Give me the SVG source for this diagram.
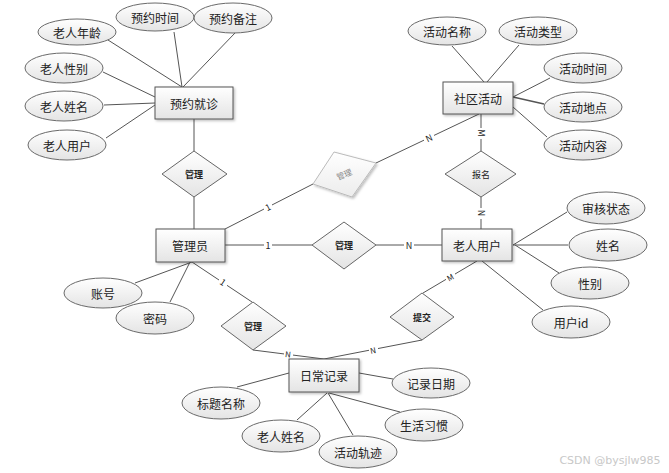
<svg xmlns="http://www.w3.org/2000/svg" width="669" height="473" viewBox="0 0 669 473">
<defs>
<linearGradient id="g" x1="0" y1="0" x2="0" y2="1"><stop offset="0" stop-color="#ffffff"/><stop offset="1" stop-color="#e4e4e4"/></linearGradient>
<linearGradient id="gl" x1="0" y1="0" x2="0" y2="1"><stop offset="0" stop-color="#ffffff"/><stop offset="1" stop-color="#ececec"/></linearGradient>
<filter id="sh" x="-10%" y="-10%" width="130%" height="140%"><feDropShadow dx="1.5" dy="1.5" stdDeviation="1" flood-color="#000" flood-opacity="0.25"/></filter>
</defs>
<style>
.e{fill:url(#g);stroke:#6a6a6a;stroke-width:1}
.r{fill:url(#g);stroke:#555;stroke-width:1;filter:url(#sh)}
.d{fill:url(#g);stroke:#666;stroke-width:1}
.c line,.c polyline{stroke:#555;stroke-width:1;fill:none}
text{font-family:"Noto Sans CJK SC","Liberation Sans",sans-serif;fill:#222;text-anchor:middle;dominant-baseline:central}
.t{font-size:12px}
.s{font-size:9px;font-weight:bold}
.l{font-size:9px;fill:#222}
</style>
<rect width="669" height="473" fill="#fff"/>
<g class="c" id="connectors">
<line x1="108" y1="40" x2="182" y2="87"/>
<line x1="174" y1="32" x2="182" y2="87"/>
<line x1="235" y1="33" x2="183" y2="87"/>
<line x1="103" y1="72" x2="155" y2="97"/>
<line x1="104" y1="105" x2="155" y2="103"/>
<line x1="106" y1="138" x2="155" y2="105"/>
<line x1="194" y1="119" x2="194" y2="151"/>
<line x1="194" y1="197" x2="194" y2="229"/>
<line x1="225" y1="229" x2="313" y2="184"/>
<line x1="376" y1="163" x2="479" y2="114"/>
<line x1="225" y1="245" x2="312" y2="245"/>
<line x1="376" y1="245" x2="442" y2="245"/>
<line x1="135" y1="283" x2="192" y2="262"/>
<line x1="170" y1="302" x2="190" y2="262"/>
<line x1="192" y1="262" x2="252" y2="302"/>
<line x1="253" y1="350" x2="324" y2="359"/>
<line x1="324" y1="359" x2="422" y2="340"/>
<line x1="477" y1="261" x2="423" y2="293"/>
<line x1="452" y1="46" x2="484" y2="82"/>
<line x1="519" y1="45" x2="487" y2="82"/>
<line x1="513" y1="97" x2="550" y2="78"/>
<line x1="513" y1="97" x2="544" y2="104" style="stroke-width:1.5"/>
<line x1="513" y1="107" x2="547" y2="137"/>
<line x1="481" y1="114" x2="481" y2="151"/>
<line x1="481" y1="197" x2="481" y2="229"/>
<line x1="513" y1="245" x2="567" y2="212"/>
<line x1="513" y1="245" x2="568" y2="245"/>
<line x1="515" y1="245" x2="559" y2="273"/>
<line x1="482" y1="261" x2="543" y2="310"/>
<line x1="237" y1="387" x2="289" y2="373"/>
<line x1="359" y1="373" x2="393" y2="379"/>
<line x1="297" y1="420" x2="327" y2="393"/>
<line x1="328" y1="393" x2="353" y2="435"/>
<line x1="329" y1="393" x2="400" y2="412"/>
</g>
<g id="labels">
<rect x="264" y="201" width="8" height="11" fill="#fff"/><text class="l" x="268" y="207" transform="rotate(-27 268 207)">1</text>
<rect x="264" y="239" width="8" height="12" fill="#fff"/><text class="l" x="268" y="245">1</text>
<rect x="424" y="132" width="10" height="11" fill="#fff"/><text class="l" x="429" y="138" transform="rotate(-25 429 138)">N</text>
<rect x="404" y="239" width="10" height="12" fill="#fff"/><text class="l" x="409" y="245">N</text>
<rect x="476" y="128" width="10" height="11" fill="#fff"/><text class="l" x="481" y="133" transform="rotate(90 481 133)">M</text>
<rect x="476" y="208" width="10" height="11" fill="#fff"/><text class="l" x="481" y="213" transform="rotate(90 481 213)">N</text>
<rect x="219" y="277" width="8" height="11" fill="#fff"/><text class="l" x="223" y="282" transform="rotate(34 223 282)">1</text>
<rect x="284" y="349" width="9" height="10" fill="#fff"/><text class="l" x="288" y="354" style="font-size:8px" transform="rotate(7 288 354)">N</text>
<rect x="446" y="272" width="9" height="10" fill="#fff"/><text class="l" x="450" y="277" style="font-size:8px" transform="rotate(-30 450 277)">M</text>
<rect x="369" y="345" width="9" height="10" fill="#fff"/><text class="l" x="373" y="350" style="font-size:8px" transform="rotate(-11 373 350)">N</text>
</g>
<g id="e-yyjz"><rect class="r" x="155" y="87" width="78" height="32"/><text class="t" x="194" y="103">预约就诊</text></g>
<g id="e-gly"><rect class="r" x="156" y="229" width="69" height="33"/><text class="t" x="190" y="245">管理员</text></g>
<g id="e-sqhd"><rect class="r" x="443" y="82" width="70" height="32"/><text class="t" x="478" y="98">社区活动</text></g>
<g id="e-lryh"><rect class="r" x="442" y="229" width="70" height="32"/><text class="t" x="477" y="245">老人用户</text></g>
<g id="e-rcjl"><rect class="r" x="289" y="359" width="70" height="33"/><text class="t" x="324" y="375">日常记录</text></g>
<g id="r-gl1"><polygon class="d" points="194,151 227,174 194,197 162,174"/><text class="s" x="194" y="174">管理</text></g>
<g id="r-gl2"><polygon points="334,152 376,163 352,197 313,184" style="fill:url(#gl);stroke:#bbb;stroke-width:1;filter:url(#sh)"/><text class="s" x="344" y="174" style="fill:#888;font-weight:normal;font-size:8px" transform="rotate(-22 344 174)">管理</text></g>
<g id="r-gl3"><polygon class="d" points="344,222 376,245 344,269 312,245"/><text class="s" x="344" y="245">管理</text></g>
<g id="r-bm"><polygon class="d" points="481,151 516,174 481,197 445,174"/><text class="s" x="481" y="174" style="font-weight:normal">报名</text></g>
<g id="r-gl4"><polygon class="d" points="253,302 286,326 253,350 221,326"/><text class="s" x="253" y="326">管理</text></g>
<g id="r-tj"><polygon class="d" points="422,293 454,317 422,340 390,317"/><text class="s" x="422" y="317">提交</text></g>
<g id="a-lrnl"><ellipse class="e" cx="77" cy="32" rx="39" ry="13"/><text class="t" x="77" y="32">老人年龄</text></g>
<g id="a-yysj"><ellipse class="e" cx="155" cy="17" rx="39" ry="14"/><text class="t" x="155" y="17">预约时间</text></g>
<g id="a-yybz"><ellipse class="e" cx="233" cy="18" rx="39" ry="15"/><text class="t" x="233" y="18">预约备注</text></g>
<g id="a-lrxb"><ellipse class="e" cx="64" cy="68" rx="39" ry="15"/><text class="t" x="64" y="68">老人性别</text></g>
<g id="a-lrxm"><ellipse class="e" cx="64" cy="106" rx="39" ry="15"/><text class="t" x="64" y="106">老人姓名</text></g>
<g id="a-lryh"><ellipse class="e" cx="67" cy="145" rx="39" ry="15"/><text class="t" x="67" y="145">老人用户</text></g>
<g id="a-hdmc"><ellipse class="e" cx="447" cy="31" rx="39" ry="14"/><text class="t" x="447" y="31">活动名称</text></g>
<g id="a-hdlx"><ellipse class="e" cx="538" cy="31" rx="39" ry="14"/><text class="t" x="538" y="31">活动类型</text></g>
<g id="a-hdsj"><ellipse class="e" cx="583" cy="68" rx="39" ry="15"/><text class="t" x="583" y="68">活动时间</text></g>
<g id="a-hddd"><ellipse class="e" cx="583" cy="107" rx="39" ry="15"/><text class="t" x="583" y="107">活动地点</text></g>
<g id="a-hdnr"><ellipse class="e" cx="583" cy="145" rx="39" ry="15"/><text class="t" x="583" y="145">活动内容</text></g>
<g id="a-shzt"><ellipse class="e" cx="606" cy="208" rx="39" ry="16"/><text class="t" x="606" y="208">审核状态</text></g>
<g id="a-xm"><ellipse class="e" cx="608" cy="245" rx="39" ry="16"/><text class="t" x="608" y="245">姓名</text></g>
<g id="a-xb"><ellipse class="e" cx="590" cy="283" rx="39" ry="16"/><text class="t" x="590" y="283">性别</text></g>
<g id="a-yhid"><ellipse class="e" cx="571" cy="322" rx="39" ry="16"/><text class="t" x="571" y="322">用户id</text></g>
<g id="a-zh"><ellipse class="e" cx="103" cy="293" rx="39" ry="15"/><text class="t" x="103" y="293">账号</text></g>
<g id="a-mm"><ellipse class="e" cx="155" cy="318" rx="39" ry="16"/><text class="t" x="155" y="318">密码</text></g>
<g id="a-jlrq"><ellipse class="e" cx="431" cy="383" rx="39" ry="15"/><text class="t" x="431" y="383">记录日期</text></g>
<g id="a-btmc"><ellipse class="e" cx="221" cy="403" rx="39" ry="16"/><text class="t" x="221" y="403">标题名称</text></g>
<g id="a-lrxm2"><ellipse class="e" cx="281" cy="436" rx="39" ry="16"/><text class="t" x="281" y="436">老人姓名</text></g>
<g id="a-hdgj"><ellipse class="e" cx="358" cy="452" rx="39" ry="16"/><text class="t" x="358" y="452">活动轨迹</text></g>
<g id="a-shxg"><ellipse class="e" cx="424" cy="425" rx="39" ry="16"/><text class="t" x="424" y="425">生活习惯</text></g>
<text x="610" y="460" style="font-size:11px;fill:#c8c8c8;font-family:'DejaVu Sans',sans-serif">CSDN @bysjlw985</text>
</svg>
